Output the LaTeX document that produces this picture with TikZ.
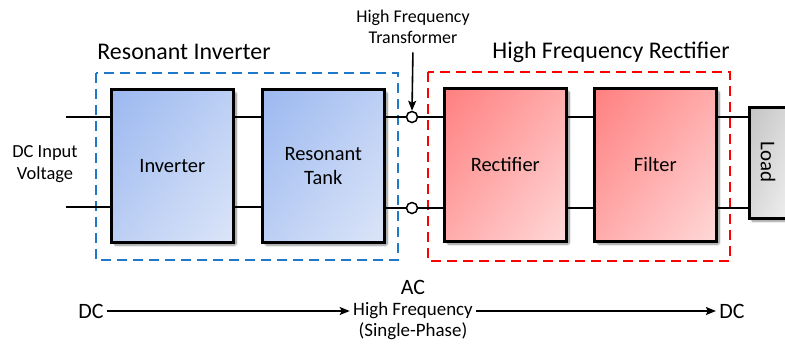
\documentclass[tikz,border=0pt]{standalone}
\usepackage{fontspec}
\setmainfont{Carlito}
\usetikzlibrary{arrows.meta,shadows.blur,shadings}
\definecolor{bluA}{HTML}{9BB8F0}
\definecolor{bluB}{HTML}{BCCFF4}
\definecolor{bluC}{HTML}{DCE5F8}
\definecolor{redA}{HTML}{FF7F7F}
\definecolor{redB}{HTML}{FFABAB}
\definecolor{redC}{HTML}{FFD8D8}
\definecolor{gryA}{HTML}{C4C4C4}
\definecolor{gryB}{HTML}{DADADA}
\definecolor{gryC}{HTML}{F2F2F2}
\definecolor{dashblue}{HTML}{1F78C8}
\begin{document}
\begin{tikzpicture}[x=1bp,y=-1bp,
  blk/.style={draw=black, line width=2.6bp, minimum width=122bp, minimum height=153bp,
    anchor=north west, align=center, font=\fontsize{20.5}{24}\selectfont,
    blur shadow={shadow xshift=3bp, shadow yshift=-3bp, shadow blur steps=8, shadow blur extra rounding=1.5bp, shadow opacity=45}},
  blueblk/.style={blk, shade, upper left=bluA, upper right=bluB, lower left=bluB, lower right=bluC},
  redblk/.style={blk, shade, upper left=redA, upper right=redB, lower left=redB, lower right=redC},
  wire/.style={line width=2.6bp},
  term/.style={circle, draw=black, fill=white, line width=1.5bp, minimum size=11bp, inner sep=0pt},
  grp/.style={line width=2.6bp, dash pattern=on 10bp off 6bp},
  title/.style={font=\fontsize{24}{26}\selectfont},
  flow/.style={line width=1.6bp, -{Stealth[length=10bp,width=8bp,inset=2bp]}},
]
\useasboundingbox (0,0) rectangle (785,347);
% group boxes
\draw[grp, dashblue] (96,73) rectangle (398,260);
\draw[grp, red] (428,72) rectangle (730,261);
\node[title] (tRI) at (184,52) {Resonant Inverter};
\node[title] (tHF) at (611,52) {High Frequency Rectifier};
% terminals
\coordinate (inT) at (66,117);
\coordinate (inB) at (66,207);
\node[term] (c1) at (412,117) {};
\node[term] (c2) at (412,208) {};
% blocks
\node[blueblk] (inv) at (110,88) {Inverter};
\node[blueblk] (tank) at (261,88) {Resonant\\Tank};
\node[redblk] (rect) at (443,87) {Rectifier};
\node[redblk] (filt) at (593,87) {Filter};
\node[draw=black, line width=2.6bp, anchor=north west, minimum width=44bp, minimum height=111bp,
  shade, upper left=gryA, upper right=gryB, lower left=gryB, lower right=gryC,
  blur shadow={shadow xshift=3bp, shadow yshift=-3bp, shadow blur steps=8, shadow opacity=45}] (load) at (748,106) {};
\node[rotate=-90, font=\fontsize{21}{22}\selectfont] (loadt) at (768,162) {Load};
\draw[wire] (inT) -- (inv.west |- inT);
\draw[wire] (inB) -- (inv.west |- inB);
\draw[wire] (inv.east |- inT) -- (tank.west |- inT);
\draw[wire] (inv.east |- inB) -- (tank.west |- inB);
\draw[wire] (tank.east |- c1) -- (c1.west);
\draw[wire] (tank.east |- c2) -- (c2.west);
\draw[wire] (c1.east) -- (rect.west |- c1);
\draw[wire] (c2.east) -- (rect.west |- c2);
\draw[wire] (rect.east |- c1) -- (filt.west |- c1);
\draw[wire] (rect.east |- c2) -- (filt.west |- c2);
\draw[wire] (filt.east |- c1) -- (load.west |- c1);
\draw[wire] (filt.east |- c2) -- (load.west |- c2);
% labels
\node[align=center, font=\fontsize{18.5}{22}\selectfont] (dcin) at (45,164) {DC Input\\Voltage};
\node[align=center, font=\fontsize{18}{21}\selectfont] (tf) at (413,27) {High Frequency\\Transformer};
\draw[line width=1.6bp, -{Stealth[length=10bp,width=8bp,inset=2bp]}, shorten <=5bp] (tf.south) -- (c1.north);
% bottom flow
\node[font=\fontsize{22}{24}\selectfont] (dc1) at (91,311) {DC};
\node[font=\fontsize{22}{24}\selectfont] (ac) at (413,287) {AC};
\node[font=\fontsize{19}{20}\selectfont] (hf) at (413,311) {High Frequency};
\node[font=\fontsize{19}{20}\selectfont] (sp) at (413,331) {(Single-Phase)};
\node[font=\fontsize{22}{24}\selectfont] (dc2) at (732,311) {DC};
\draw[flow] (dc1.east) -- (hf.west);
\draw[flow] (hf.east) -- (dc2.west);
\end{tikzpicture}
\end{document}
